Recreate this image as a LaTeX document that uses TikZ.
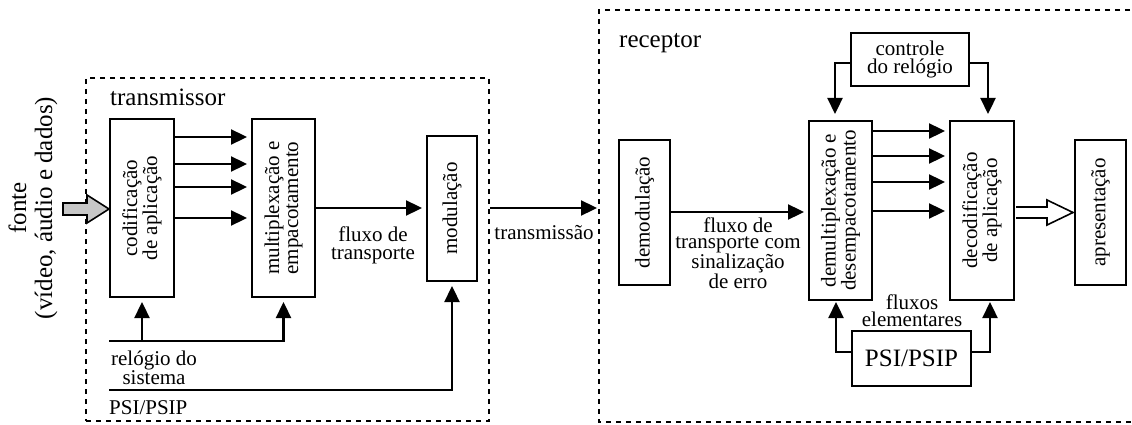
\documentclass[tikz,border=0pt]{standalone}
\usepackage{fontspec}
\setmainfont{Liberation Serif}
\usetikzlibrary{arrows.meta}
\tikzset{
  box/.style={draw, line width=2pt, inner sep=0pt, fill=white},
  rtext/.style={rotate=90, align=center, inner sep=0pt, font=\fontsize{21}{19}\selectfont},
  lbl/.style={align=center, inner sep=0pt, font=\fontsize{21}{18}\selectfont},
  big/.style={inner sep=0pt, font=\fontsize{25}{26}\selectfont},
  conn/.style={line width=2.3pt},
  arr/.style={line width=2.3pt, -{Triangle[length=16pt,width=15pt]}, shorten >=4pt},
  dashbox/.style={line width=2pt, dash pattern=on 5pt off 5pt},
}
\begin{document}
\begin{tikzpicture}[x=1pt,y=-1pt]
\useasboundingbox (0,0) rectangle (1132,425);

% dashed frames
\node[dashbox, draw, minimum width=403pt, minimum height=343pt, inner sep=0pt] (tx) at (287.5,249.5) {};
\coordinate (rxL) at (599,208);
\draw[dashbox] (1140,10) -- (599,10) -- (599,422) -- (1140,422);
\node[big, anchor=base west] (txlbl) at (110,106) {transmissor};
\node[big, anchor=base west] (rxlbl) at (619,48) {receptor};

% source label and grey arrow
\node[rotate=90, align=center, inner sep=0pt, font=\fontsize{25}{26}\selectfont] (src) at (33,208) {fonte\\(vídeo, áudio e dados)};
\draw[line width=1.6pt, fill=black!22, line join=miter]
  (63,203) -- (87,203) -- (87,195) -- (109,209) -- (87,223) -- (87,215) -- (63,215) -- cycle;

% transmitter boxes
\node[box, minimum width=64pt, minimum height=178pt] (cod) at (142,208) {};
\node[rtext] (codt) at (cod) {codificação\\de aplicação};
\node[box, minimum width=63pt, minimum height=178pt] (mux) at (283.5,208) {};
\node[rtext] (muxt) at (mux) {multiplexação e\\empacotamento};
\node[box, minimum width=50pt, minimum height=145pt] (mod) at (452,208.5) {};
\node[rtext] (modt) at (mod) {modulação};

% cod -> mux
\foreach \yy in {137,164,187,218}
  \draw[arr] (cod.east |- 0,\yy) -- (mux.west |- 0,\yy);

% clock bus
\coordinate (clk) at (109,341);
\draw[arr] (clk) -| (mux.south);
\draw[arr] (cod.south |- clk) -- (cod.south);
\node[lbl, font=\fontsize{21}{19}\selectfont] (clkt) at (154,368) {relógio do\\sistema};

% PSI/PSIP bus
\coordinate (psil) at (109,390);
\draw[arr] (psil) -| (mod.south);
\node[lbl, anchor=base west] (psilt) at (109,414) {PSI/PSIP};

% mux -> mod
\draw[arr] (mux.east |- 0,208) -- (mod.west |- 0,208);
\node[lbl] (fluxt) at (373,245) {fluxo de\\transporte};

% transmission
\draw[arr, shorten >=2pt] (tx.east |- 0,208) -- (rxL);
\node[lbl, anchor=base] (trt) at (544,239) {transmissão};

% receiver boxes
\node[box, minimum width=51pt, minimum height=145pt] (demod) at (644.5,212.5) {};
\node[rtext] (demodt) at (demod) {demodulação};
\node[box, minimum width=63pt, minimum height=179pt] (demux) at (840.5,210.5) {};
\node[rtext] (demuxt) at (demux) {demultiplexação e\\desempacotamento};
\node[box, minimum width=64pt, minimum height=179pt] (dec) at (982,210.5) {};
\node[rtext] (dect) at (dec) {decodificação\\de aplicação};
\node[box, minimum width=51pt, minimum height=145pt] (apr) at (1100.5,212.5) {};
\node[rtext] (aprt) at (apr) {apresentação};
\node[box, minimum width=118pt, minimum height=53pt] (ctl) at (910,59.5) {};
\node[lbl] (ctlt) at (ctl) {controle\\do relógio};
\node[box, minimum width=119pt, minimum height=55pt] (psi) at (911.5,358.5) {};
\node[big] (psit) at (psi) {PSI/PSIP};

% demod -> demux
\draw[arr] (demod.east |- 0,212) -- (demux.west |- 0,212);
\node[lbl, font=\fontsize{21}{16}\selectfont] (errt) at (738,253) {fluxo de\\transporte com\\sinalização\\de erro};

% demux -> dec
\foreach \yy in {131,156,182,211}
  \draw[arr] (demux.east |- 0,\yy) -- (dec.west |- 0,\yy);

% clock control
\draw[arr, shorten >=6pt] ([yshift=-3.5pt]ctl.west) -| ([xshift=-5.5pt]demux.north);
\draw[arr, shorten >=6pt] ([yshift=-3.5pt]ctl.east) -| ([xshift=6pt]dec.north);

% PSI/PSIP receiver
\draw[arr, shorten >=1pt] ([yshift=6.5pt]psi.west) -| ([xshift=-4.5pt]demux.south);
\draw[arr, shorten >=1pt] ([yshift=6.5pt]psi.east) -| ([xshift=8pt]dec.south);
\node[lbl, font=\fontsize{21}{17}\selectfont] (elt) at (912,311) {fluxos\\elementares};

% hollow arrow dec -> apr
\draw[line width=1.6pt, fill=white, line join=miter]
  (1016,207) -- (1047,207) -- (1047,200) -- (1073,212.5) -- (1047,225) -- (1047,218) -- (1016,218);
\end{tikzpicture}
\end{document}
